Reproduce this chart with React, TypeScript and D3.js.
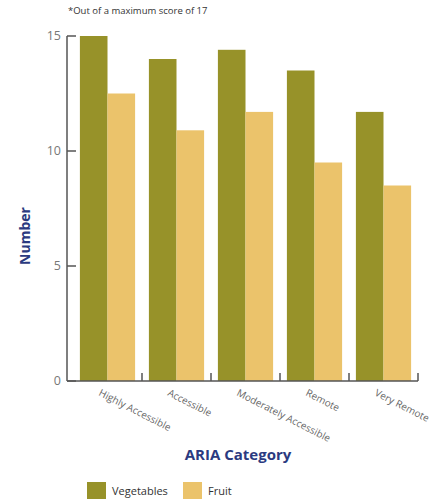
import React from 'react';
import * as d3 from 'd3';

const categories = ['Highly Accessible', 'Accessible', 'Moderately Accessible', 'Remote', 'Very Remote'];
const seriesNames = ['Vegetables', 'Fruit'];
const vegetables = [15.0, 14.0, 14.4, 13.5, 11.7];
const fruit = [12.5, 10.9, 11.7, 9.5, 8.5];
const yTicks = [0, 5, 10, 15];

const colors = ['#979229', '#EBC36B'];
const navy = '#2B3A80';
const axisColor = '#555';
const font = '"Open Sans", sans-serif';

const App: React.FC = () => {
  const width = 433;
  const height = 499;

  // Plot area
  const axisX = 67;
  const top = 36;
  const bottom = 381;

  const x0 = d3.scaleBand<string>()
    .domain(categories)
    .range([73, 418])
    .paddingInner(0.2)
    .paddingOuter(0.1);

  const x1 = d3.scaleBand<string>()
    .domain(seriesNames)
    .range([0, x0.bandwidth()]);

  const y = d3.scaleLinear().domain([0, 15]).range([bottom, top]);

  const series = [vegetables, fruit];
  const step = x0.step();

  return (
    <svg width={width} height={height} style={{ position: 'absolute', left: 0, top: 0, fontFamily: font }}>
      <rect width={width} height={height} fill="#fff" />

      {/* footnote */}
      <text x={68} y={14} fontSize={9.5} fill="#333">*Out of a maximum score of 17</text>

      {/* bars */}
      {categories.map((c, i) => (
        <g key={c} transform={`translate(${x0(c)},0)`}>
          {series.map((vals, j) => (
            <rect
              key={seriesNames[j]}
              x={x1(seriesNames[j])}
              y={y(vals[i])}
              width={x1.bandwidth()}
              height={bottom - y(vals[i])}
              fill={colors[j]}
            />
          ))}
        </g>
      ))}

      {/* y axis */}
      <line x1={axisX} x2={axisX} y1={y(15)} y2={bottom} stroke={axisColor} strokeWidth={1.5} />
      {yTicks.map(t => (
        <g key={t}>
          <line x1={axisX} x2={axisX + 9} y1={y(t)} y2={y(t)} stroke={axisColor} strokeWidth={1.5} />
          <text x={axisX - 6} y={y(t)} dy="0.35em" textAnchor="end" fontSize={12.5} fill="#777">{t}</text>
        </g>
      ))}

      {/* x axis */}
      <line x1={axisX} x2={x0.range()[1]} y1={bottom} y2={bottom} stroke={axisColor} strokeWidth={1.5} />
      {categories.map(c => {
        const end = (x0(c) || 0) + x0.bandwidth() + step * 0.1;
        return <line key={c} x1={end} x2={end} y1={bottom} y2={bottom - 8} stroke={axisColor} strokeWidth={1.5} />;
      })}
      {categories.map(c => {
        const cx = (x0(c) || 0) + x0.bandwidth() / 2 - 8;
        return (
          <text
            key={c}
            transform={`translate(${cx},${bottom + 11}) rotate(27)`}
            fontSize={10}
            fill="#666"
            dy="0.35em"
          >{c}</text>
        );
      })}

      {/* axis titles */}
      <text
        transform={`translate(30,236) rotate(-90)`}
        textAnchor="middle"
        fontSize={14}
        fontWeight="bold"
        fill={navy}
      >Number</text>
      <text x={238} y={460} textAnchor="middle" fontSize={15} fontWeight="bold" fill={navy}>ARIA Category</text>

      {/* legend */}
      {seriesNames.map((s, j) => {
        const lx = [87, 183][j];
        return (
          <g key={s}>
            <rect x={lx} y={482} width={19} height={19} fill={colors[j]} />
            <text x={lx + 25} y={495} fontSize={11} fill="#333">{s}</text>
          </g>
        );
      })}
    </svg>
  );
};

export default App;
